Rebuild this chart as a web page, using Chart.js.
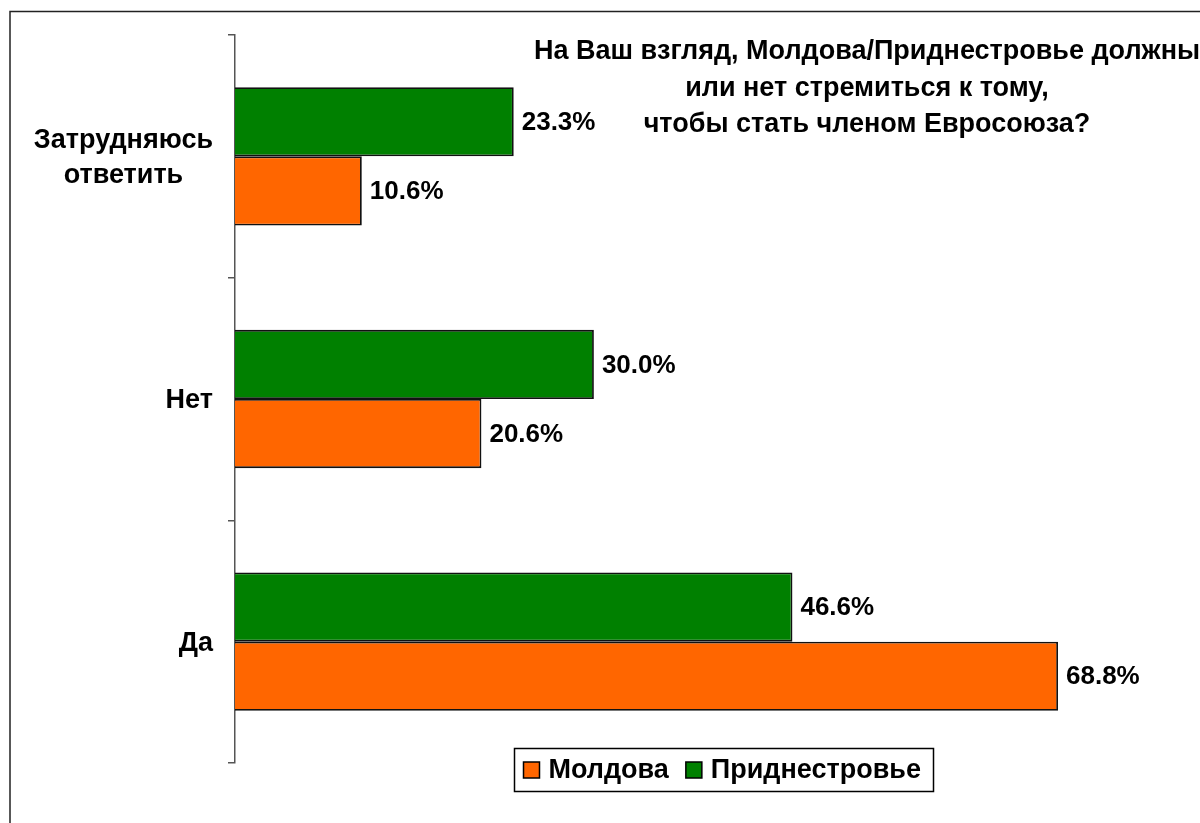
<!DOCTYPE html>
<html>
<head>
<meta charset="utf-8">
<script src="https://cdn.jsdelivr.net/npm/chart.js@4.4.1/dist/chart.umd.min.js"></script>
<style>
  html, body { margin: 0; padding: 0; background: #fff; }
  #wrap { width: 1200px; height: 823px; position: relative; }
</style>
</head>
<body>
<div id="wrap"><canvas id="EuStats" width="1200" height="823"></canvas></div>
<script>
//
//
// Data
var categories = [['Затрудняюсь', 'ответить'], 'Нет', 'Да'];
var moldova_values = [10.6, 20.6, 68.8];
var pmr_values = [23.3, 30.0, 46.6];
var series_names = ['Молдова', 'Приднестровье'];
var series_colors = ['#FF6600', '#008000'];
var title_lines = [
  'На Ваш взгляд, Молдова/Приднестровье должны',
  'или нет стремиться к тому,',
  'чтобы стать членом Евросоюза?'
];

var label_font = 'bold 27px "Liberation Sans", Arial, sans-serif';
var value_font = 'bold 26px "Liberation Sans", Arial, sans-serif';
var title_font = 'bold 27px "Liberation Sans", Arial, sans-serif';

//
//
// Frame, title, value labels, category labels and legend
var decorations = {
  id: 'decorations',
  afterDraw: function(chart){
    var ctx = chart.ctx;
    var area = chart.chartArea;
    var yScale = chart.scales.y;

    ctx.save();

    //
    // Outer frame
    ctx.strokeStyle = '#222';
    ctx.lineWidth = 1.5;
    ctx.strokeRect(10, 11.5, 1400, 1000);

    //
    // Title
    ctx.fillStyle = '#000';
    ctx.font = title_font;
    ctx.textAlign = 'center';
    ctx.textBaseline = 'middle';
    var title_y = [52, 89, 125];
    for (var t = 0; t < title_lines.length; t++){
      ctx.fillText(title_lines[t], 867, title_y[t]);
    }

    //
    // Values at bar ends
    ctx.font = value_font;
    ctx.textAlign = 'left';
    chart.data.datasets.forEach(function(ds, di){
      var meta = chart.getDatasetMeta(di);
      meta.data.forEach(function(bar, i){
        ctx.fillText(ds.data[i].toFixed(1) + '%', bar.x + 8, bar.y + 1);
      });
    });

    //
    // Category labels
    ctx.font = label_font;
    ctx.textAlign = 'center';
    categories.forEach(function(cat, i){
      var lines = Array.isArray(cat) ? cat : [cat];
      var max_w = 0;
      lines.forEach(function(l){ max_w = Math.max(max_w, ctx.measureText(l).width); });
      var cx = area.left - 22 - max_w / 2;
      var cy = yScale.getPixelForValue(i);
      var line_h = 35;
      lines.forEach(function(l, k){
        ctx.fillText(l, cx, cy + (k - (lines.length - 1) / 2) * line_h + 2);
      });
    });

    //
    // Legend (Молдова first, like the original)
    ctx.font = label_font;
    ctx.textAlign = 'left';
    var box = 16, gap_box = 9, gap_item = 17, pad_l = 9, pad_r = 13;
    var items = [
      { text: series_names[0], color: series_colors[0] },
      { text: series_names[1], color: series_colors[1] }
    ];
    var total = 0;
    items.forEach(function(it, k){
      it.w = ctx.measureText(it.text).width;
      total += box + gap_box + it.w + (k > 0 ? gap_item : 0);
    });
    var legend_w = Math.round(total + pad_l + pad_r);
    var legend_x = Math.round(723.5 - legend_w / 2) + 0.5;
    var legend_top = 748.5, legend_h = 43;
    ctx.strokeStyle = '#000';
    ctx.lineWidth = 1.5;
    ctx.strokeRect(legend_x, legend_top, legend_w, legend_h);
    var x = legend_x + pad_l;
    var mid = legend_top + legend_h / 2;
    items.forEach(function(it, k){
      if (k > 0) x += gap_item;
      ctx.fillStyle = it.color;
      ctx.fillRect(x, mid - box / 2, box, box);
      ctx.lineWidth = 1.5;
      ctx.strokeRect(x, mid - box / 2, box, box);
      x += box + gap_box;
      ctx.fillStyle = '#000';
      ctx.fillText(it.text, x, mid + 1);
      x += it.w;
    });

    ctx.restore();
  }
};

//
//
// Draw Chart
var eu_stats = document.getElementById('EuStats').getContext('2d');

new Chart(eu_stats, {
  type: 'bar',
  data: {
    labels: categories,
    datasets: [{
      label: series_names[1],
      data: pmr_values,
      backgroundColor: series_colors[1],
      borderColor: '#111',
      borderWidth: 1.8
    }, {
      label: series_names[0],
      data: moldova_values,
      backgroundColor: series_colors[0],
      borderColor: '#111',
      borderWidth: 1.8
    }]
  },
  options: {
    indexAxis: 'y',
    responsive: false,
    animation: false,
    categoryPercentage: 0.57,
    barPercentage: 1.0,
    layout: {
      padding: { left: 0, top: 35, right: 8, bottom: 60 }
    },
    scales: {
      x: {
        display: false,
        min: 0,
        max: 80
      },
      y: {
        grid: {
          offset: true,
          drawOnChartArea: false,
          drawTicks: true,
          tickLength: 7,
          color: '#555',
          lineWidth: 1.5
        },
        border: { color: '#555', width: 1.5 },
        ticks: { display: false },
        afterFit: function(scale){ scale.width = 235; }
      }
    },
    plugins: {
      legend: { display: false },
      title: { display: false },
      tooltip: { enabled: false }
    }
  },
  plugins: [decorations]
});
</script>
</body>
</html>
